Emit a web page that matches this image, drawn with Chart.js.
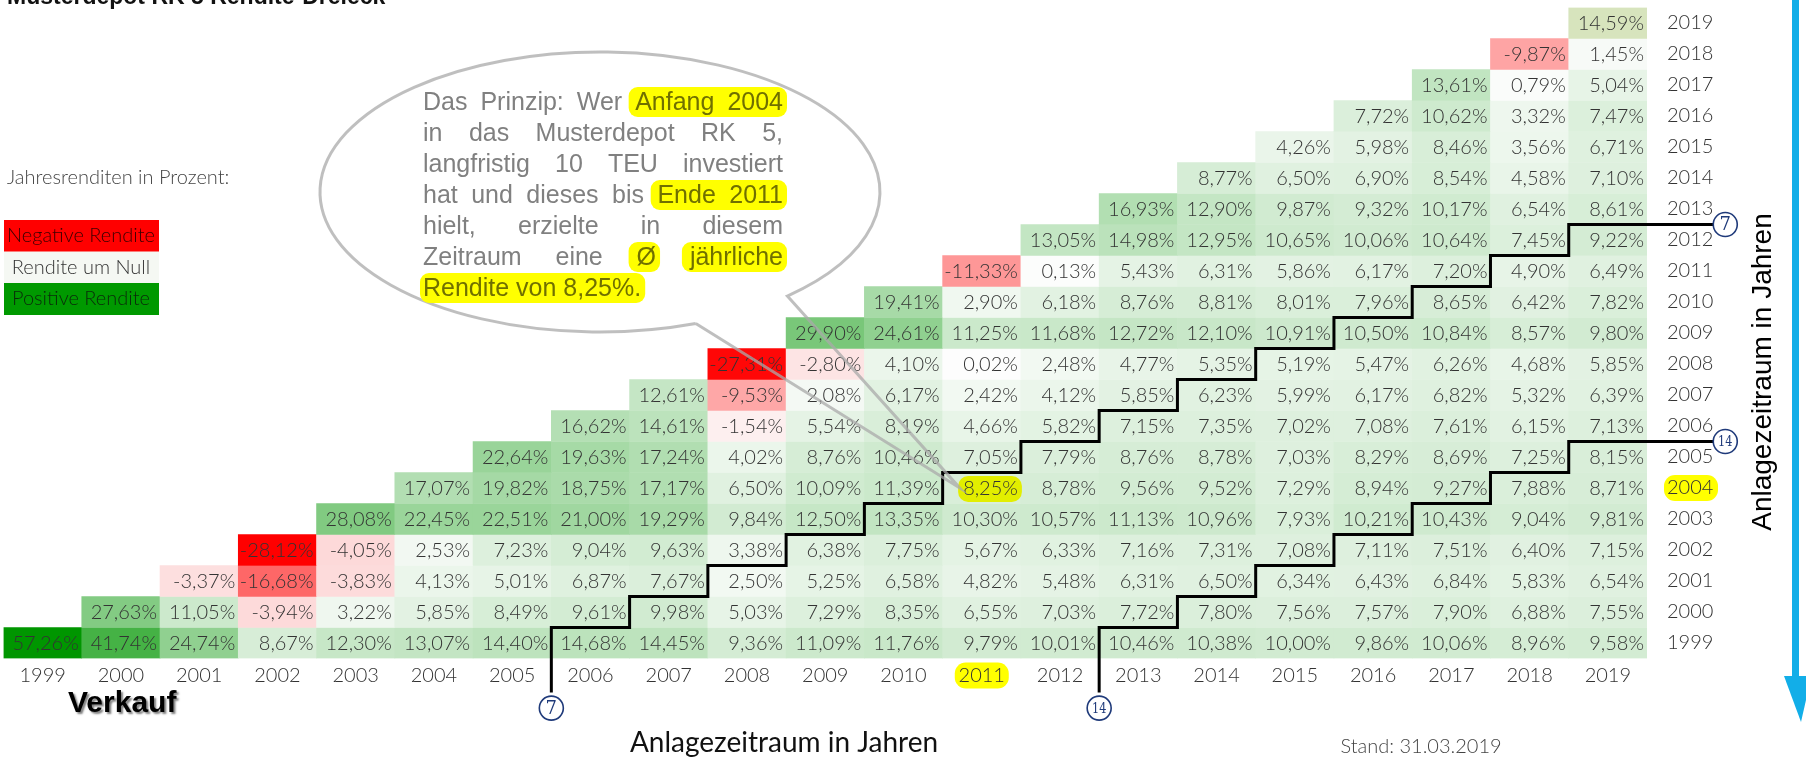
<!DOCTYPE html>
<html>
<head>
<meta charset="utf-8">
<title>Musterdepot RK 5 Rendite-Dreieck</title>
<script src="https://cdn.jsdelivr.net/npm/chart.js@4.4.0/dist/chart.umd.min.js"></script>
<style>
  html, body { margin: 0; padding: 0; background: #fff; }
  canvas { display: block; }
</style>
</head>
<body>
<canvas id="triangle" width="1806" height="765"></canvas>
<script>
// rows = Anlage (start year), columns = Verkauf (end year)
const years = [1999, 2000, 2001, 2002, 2003, 2004, 2005, 2006, 2007, 2008, 2009,
  2010, 2011, 2012, 2013, 2014, 2015, 2016, 2017, 2018, 2019];

// avg. yearly return in %, each list starts with end year = start year
const ret1999 = [57.26, 41.74, 24.74, 8.67, 12.30, 13.07, 14.40, 14.68, 14.45, 9.36, 11.09, 11.76, 9.79, 10.01, 10.46, 10.38, 10.00, 9.86, 10.06, 8.96, 9.58];
const ret2000 = [27.63, 11.05, -3.94, 3.22, 5.85, 8.49, 9.61, 9.98, 5.03, 7.29, 8.35, 6.55, 7.03, 7.72, 7.80, 7.56, 7.57, 7.90, 6.88, 7.55];
const ret2001 = [-3.37, -16.68, -3.83, 4.13, 5.01, 6.87, 7.67, 2.50, 5.25, 6.58, 4.82, 5.48, 6.31, 6.50, 6.34, 6.43, 6.84, 5.83, 6.54];
const ret2002 = [-28.12, -4.05, 2.53, 7.23, 9.04, 9.63, 3.38, 6.38, 7.75, 5.67, 6.33, 7.16, 7.31, 7.08, 7.11, 7.51, 6.40, 7.15];
const ret2003 = [28.08, 22.45, 22.51, 21.00, 19.29, 9.84, 12.50, 13.35, 10.30, 10.57, 11.13, 10.96, 7.93, 10.21, 10.43, 9.04, 9.81];
const ret2004 = [17.07, 19.82, 18.75, 17.17, 6.50, 10.09, 11.39, 8.25, 8.78, 9.56, 9.52, 7.29, 8.94, 9.27, 7.88, 8.71];
const ret2005 = [22.64, 19.63, 17.24, 4.02, 8.76, 10.46, 7.05, 7.79, 8.76, 8.78, 7.03, 8.29, 8.69, 7.25, 8.15];
const ret2006 = [16.62, 14.61, -1.54, 5.54, 8.19, 4.66, 5.82, 7.15, 7.35, 7.02, 7.08, 7.61, 6.15, 7.13];
const ret2007 = [12.61, -9.53, 2.08, 6.17, 2.42, 4.12, 5.85, 6.23, 5.99, 6.17, 6.82, 5.32, 6.39];
const ret2008 = [-27.31, -2.80, 4.10, 0.02, 2.48, 4.77, 5.35, 5.19, 5.47, 6.26, 4.68, 5.85];
const ret2009 = [29.90, 24.61, 11.25, 11.68, 12.72, 12.10, 10.91, 10.50, 10.84, 8.57, 9.80];
const ret2010 = [19.41, 2.90, 6.18, 8.76, 8.81, 8.01, 7.96, 8.65, 6.42, 7.82];
const ret2011 = [-11.33, 0.13, 5.43, 6.31, 5.86, 6.17, 7.20, 4.90, 6.49];
const ret2012 = [13.05, 14.98, 12.95, 10.65, 10.06, 10.64, 7.45, 9.22];
const ret2013 = [16.93, 12.90, 9.87, 9.32, 10.17, 6.54, 8.61];
const ret2014 = [8.77, 6.50, 6.90, 8.54, 4.58, 7.10];
const ret2015 = [4.26, 5.98, 8.46, 3.56, 6.71];
const ret2016 = [7.72, 10.62, 3.32, 7.47];
const ret2017 = [13.61, 0.79, 5.04];
const ret2018 = [-9.87, 1.45];
const ret2019 = [14.59];

const rowReturns = [ret1999, ret2000, ret2001, ret2002, ret2003, ret2004, ret2005,
  ret2006, ret2007, ret2008, ret2009, ret2010, ret2011, ret2012, ret2013, ret2014,
  ret2015, ret2016, ret2017, ret2018, ret2019];

const holdSpans = [7, 14];      // staircases
const ytdYear = 2019;           // year to date cell, shaded apart
const exampleStart = 2004;      // example in the speech bubble
const exampleEnd = 2011;

const firstYear = years[0], lastYear = years[years.length - 1];

// colour scale like the Excel 3-colour rule
const red = [255, 0, 0], mid = [253, 253, 253], green = [0, 150, 0];
var allValues = [].concat.apply([], rowReturns);
var minRet = Math.min.apply(null, allValues);
var maxRet = Math.max.apply(null, allValues);

function mix(a, b, t) {
  return 'rgb(' + a.map(function (c, k) { return Math.round(c + (b[k] - c) * t); }).join(',') + ')';
}
function shade(v, start, end) {
  if (start === ytdYear && end === ytdYear) return '#d7e4bd';
  if (v < 0) return mix(mid, red, v / minRet);
  return mix(mid, green, v / maxRet);
}

var cells = [], cellColors = [];
rowReturns.forEach(function (list, i) {
  var start = years[i];
  list.forEach(function (v, j) {
    var end = start + j;
    cells.push({ x: end, y: [start - 0.5, start + 0.5], v: v, start: start });
    cellColors.push(shade(v, start, end));
  });
});

// staircase: vertical edge left of column (start + span) for every start row
function stairs(span) {
  var pts = [{ x: firstYear + span - 0.5, y: firstYear - 0.5 - 1.1 }];
  for (var r = firstYear; r + span <= lastYear; r++) {
    pts.push({ x: r + span - 0.5, y: r + 0.5 });
    if (r + 1 + span <= lastYear) pts.push({ x: r + span + 0.5, y: r + 0.5 });
    else pts.push({ x: lastYear + 0.5 + 0.85, y: r + 0.5 });
  }
  return pts;
}

function fmt(v) {
  return v.toFixed(2).replace('.', ',') + '%';
}

const cellFont = '300 20px Lato';

// cell numbers
const cellText = {
  id: 'cellText',
  afterDatasetsDraw(chart) {
    const ctx = chart.ctx, xs = chart.scales.x, ys = chart.scales.y;
    const half = Math.abs(xs.getPixelForValue(2000) - xs.getPixelForValue(1999)) / 2;
    ctx.save();
    ctx.font = cellFont;
    ctx.textAlign = 'right';
    ctx.textBaseline = 'middle';
    cells.forEach(function (c) {
      var right = xs.getPixelForValue(c.x) + half - 3;
      var cy = ys.getPixelForValue(c.start) + 1;
      var txt = fmt(c.v);
      if (c.start === exampleStart && c.x === exampleEnd) {
        var w = ctx.measureText(txt).width;
        ctx.fillStyle = '#e2ee00';
        ctx.beginPath();
        ctx.roundRect(right - w - 5, cy - 13, w + 9, 26, 10);
        ctx.fill();
      }
      ctx.fillStyle = '#333';
      ctx.fillText(txt, right, cy);
    });
    ctx.restore();
  }
};

// yellow marks behind the axis labels 2004 / 2011
const tickMarks = {
  id: 'tickMarks',
  beforeDraw(chart) {
    const ctx = chart.ctx, xs = chart.scales.x, ys = chart.scales.y, a = chart.chartArea;
    ctx.save();
    ctx.fillStyle = '#ffff00';
    ctx.beginPath();
    ctx.roundRect(xs.getPixelForValue(exampleEnd) - 27, a.bottom + 4, 54, 26, 11);
    ctx.fill();
    ctx.beginPath();
    ctx.roundRect(a.right + 17, ys.getPixelForValue(exampleStart) - 13, 54, 26, 11);
    ctx.fill();
    ctx.restore();
  }
};

function circled(ctx, x, y, n) {
  ctx.save();
  ctx.strokeStyle = '#1f3a7a';
  ctx.lineWidth = 1.6;
  ctx.fillStyle = '#fff';
  ctx.beginPath();
  ctx.arc(x, y, 12, 0, Math.PI * 2);
  ctx.fill();
  ctx.stroke();
  ctx.fillStyle = '#1f3a7a';
  ctx.font = (n > 9 ? '15px' : '18px') + ' "DejaVu Serif"';
  ctx.textAlign = 'center';
  ctx.textBaseline = 'middle';
  if (n > 9) {
    ctx.save();
    ctx.translate(x, y + 1);
    ctx.scale(0.75, 1);
    ctx.fillText(String(n), 0, 0);
    ctx.restore();
  } else {
    ctx.fillText(String(n), x, y + 1);
  }
  ctx.restore();
}

// bubble text: [word, highlight group]
const bubbleLines = [
  [['Das', 0], ['Prinzip:', 0], ['Wer', 0], ['Anfang', 1], ['2004', 1]],
  [['in', 0], ['das', 0], ['Musterdepot', 0], ['RK', 0], ['5,', 0]],
  [['langfristig', 0], ['10', 0], ['TEU', 0], ['investiert', 0]],
  [['hat', 0], ['und', 0], ['dieses', 0], ['bis', 0], ['Ende', 1], ['2011', 1]],
  [['hielt,', 0], ['erzielte', 0], ['in', 0], ['diesem', 0]],
  [['Zeitraum', 0], ['eine', 0], ['Ø', 2], ['jährliche', 3]],
  [['Rendite', 1], ['von', 1], ['8,25%.', 1]]
];

const extras = {
  id: 'extras',
  afterDraw(chart) {
    const ctx = chart.ctx, xs = chart.scales.x, ys = chart.scales.y;
    ctx.save();

    // title (cut at the top)
    ctx.fillStyle = '#111';
    ctx.font = 'bold 23px "Liberation Sans"';
    ctx.textBaseline = 'alphabetic';
    ctx.fillText('Musterdepot RK 5 Rendite-Dreieck', 7, 4);

    // legend
    ctx.font = '300 20px Lato';
    ctx.fillStyle = '#444';
    ctx.fillText('Jahresrenditen in Prozent:', 7, 184);
    var legend = [['Negative Rendite', '#ff0000', '#3a0000'],
      ['Rendite um Null', '#f5f8f3', '#333'],
      ['Positive Rendite', '#009900', '#0a2a0a']];
    ctx.textAlign = 'center';
    ctx.textBaseline = 'middle';
    ctx.font = '300 20px Lato';
    legend.forEach(function (l, i) {
      ctx.fillStyle = l[1];
      ctx.fillRect(4, 220 + i * 31.5, 155, 32);
      ctx.fillStyle = l[2];
      ctx.fillText(l[0], 81, 236 + i * 31.5);
    });

    // staircase markers
    holdSpans.forEach(function (span) {
      circled(ctx, xs.getPixelForValue(firstYear + span - 0.5), ys.getPixelForValue(firstYear - 0.5 - 1.6), span);
      circled(ctx, xs.getPixelForValue(lastYear + 0.5 + 1.0), ys.getPixelForValue(lastYear - span + 0.5), span);
    });

    // "Verkauf"
    ctx.save();
    ctx.textAlign = 'left';
    ctx.font = 'bold 30px "Liberation Sans"';
    ctx.shadowColor = 'rgba(0,0,0,0.5)';
    ctx.shadowOffsetX = 2;
    ctx.shadowOffsetY = 2;
    ctx.shadowBlur = 2;
    ctx.fillStyle = '#000';
    ctx.fillText('Verkauf', 68, 704);
    ctx.restore();

    // axis titles
    ctx.fillStyle = '#111';
    ctx.font = '28px Lato';
    ctx.fillText('Anlagezeitraum in Jahren', 784, 743);
    ctx.save();
    ctx.translate(1763, 372);
    ctx.rotate(-Math.PI / 2);
    ctx.font = '28px "Liberation Sans"';
    ctx.fillStyle = '#000';
    ctx.fillText('Anlagezeitraum in Jahren', 0, 0);
    ctx.restore();

    ctx.font = '300 20px Lato';
    ctx.fillStyle = '#444';
    ctx.fillText('Stand: 31.03.2019', 1421, 747);

    // blue arrow on the right edge
    ctx.fillStyle = '#12aee8';
    ctx.fillRect(1792, 0, 7, 680);
    ctx.beginPath();
    ctx.moveTo(1784, 676);
    ctx.lineTo(1806, 676);
    ctx.lineTo(1806, 700);
    ctx.lineTo(1801, 722);
    ctx.closePath();
    ctx.fill();

    // speech bubble
    var cx = 600, cy = 192, rx = 280, ry = 140;
    var tA = 48 * Math.PI / 180, tB = 70 * Math.PI / 180;
    var tip = { x: xs.getPixelForValue(exampleEnd) - 22, y: ys.getPixelForValue(exampleStart) };
    ctx.strokeStyle = 'rgba(170,170,170,0.75)';
    ctx.lineWidth = 3;
    ctx.beginPath();
    ctx.ellipse(cx, cy, rx, ry, 0, tB, tA + Math.PI * 2);
    ctx.lineTo(tip.x, tip.y);
    ctx.lineTo(cx + rx * Math.cos(tB), cy + ry * Math.sin(tB));
    ctx.stroke();

    // bubble text, justified
    var left = 423, right = 783, base = 110, lh = 31;
    ctx.font = '25px "Liberation Sans"';
    ctx.textAlign = 'left';
    ctx.textBaseline = 'alphabetic';
    var sp = ctx.measureText(' ').width;
    bubbleLines.forEach(function (line, li) {
      var widths = line.map(function (w) { return ctx.measureText(w[0]).width; });
      var sum = widths.reduce(function (s, w) { return s + w; }, 0);
      var last = li === bubbleLines.length - 1;
      var gap = last ? sp : (right - left - sum) / (line.length - 1);
      var xPos = [], x = left;
      widths.forEach(function (w) { xPos.push(x); x += w + gap; });
      var y = base + li * lh;
      // highlight runs
      var i = 0;
      while (i < line.length) {
        if (!line[i][1]) { i++; continue; }
        var g = line[i][1], j = i;
        while (j + 1 < line.length && line[j + 1][1] === g) j++;
        var x0 = xPos[i] - (i > 0 ? Math.min(gap * 0.5, 8) : 3);
        var x1 = xPos[j] + widths[j] + 4;
        ctx.fillStyle = '#ffff00';
        ctx.beginPath();
        ctx.roundRect(x0, y - 23, x1 - x0, 30, 9);
        ctx.fill();
        i = j + 1;
      }
      line.forEach(function (w, k) {
        ctx.fillStyle = w[1] ? '#707000' : '#808080';
        ctx.fillText(w[0], xPos[k], y);
      });
    });

    ctx.restore();
  }
};

var tickFont = { family: 'Lato', size: 20, weight: '300' };

var datasets = [{
  type: 'bar',
  data: cells,
  backgroundColor: cellColors,
  borderWidth: 0,
  barPercentage: 1,
  categoryPercentage: 1,
  order: 2
}];
holdSpans.forEach(function (span) {
  datasets.push({
    type: 'line',
    data: stairs(span),
    borderColor: '#000',
    borderWidth: 3,
    pointRadius: 0,
    tension: 0,
    clip: false,
    borderJoinStyle: 'miter',
    order: 1
  });
});

function noPad(s) {
  s.paddingTop = 0;
  s.paddingBottom = 0;
  s.paddingLeft = 0;
  s.paddingRight = 0;
}

new Chart(document.getElementById('triangle'), {
  type: 'bar',
  data: { datasets: datasets },
  options: {
    responsive: false,
    animation: false,
    events: [],
    layout: { padding: { left: 3.5, top: 7.5, right: 0, bottom: 0 } },
    plugins: { legend: { display: false }, tooltip: { enabled: false } },
    scales: {
      x: {
        type: 'linear',
        offset: false,
        min: firstYear - 0.5,
        max: lastYear + 0.5,
        grid: { display: false, drawTicks: false, offset: false },
        border: { display: false },
        afterBuildTicks: function (s) { s.ticks = years.map(function (y) { return { value: y }; }); },
        afterFit: function (s) { s.height = 106.5; noPad(s); },
        ticks: {
          autoSkip: false, maxRotation: 0, padding: 5,
          color: '#333', font: tickFont,
          callback: function (v) { return String(v); }
        }
      },
      y: {
        type: 'linear',
        position: 'right',
        offset: false,
        min: firstYear - 0.5,
        max: lastYear + 0.5,
        grid: { display: false, drawTicks: false },
        border: { display: false },
        afterBuildTicks: function (s) { s.ticks = years.map(function (y) { return { value: y }; }); },
        afterFit: function (s) { s.width = 159; noPad(s); },
        ticks: {
          autoSkip: false, padding: 20,
          color: '#333', font: tickFont,
          callback: function (v) { return String(v); }
        }
      }
    }
  },
  plugins: [tickMarks, cellText, extras]
});
</script>
</body>
</html>
